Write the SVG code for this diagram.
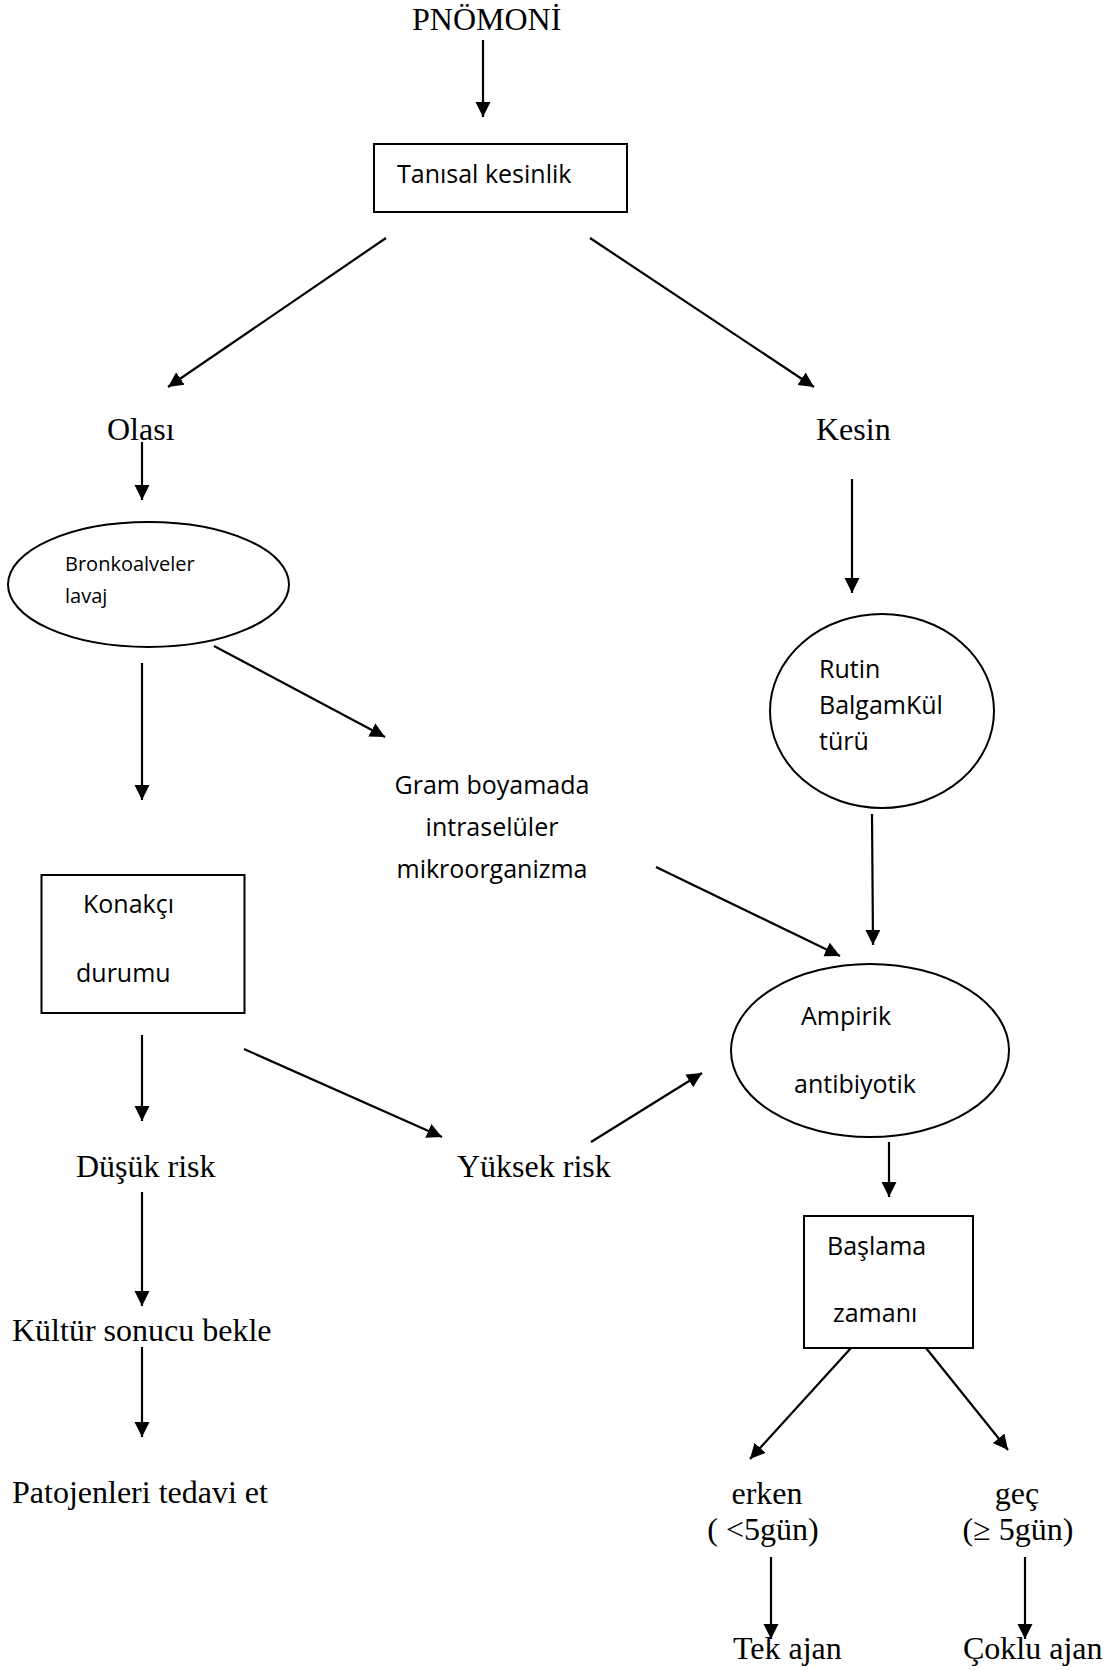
<svg xmlns="http://www.w3.org/2000/svg" width="1117" height="1670" viewBox="0 0 1117 1670">
<style>
.bg{fill:#ffffff}
.shape{fill:#ffffff;stroke:#000000;stroke-width:2}
.conn{stroke:#000000;stroke-width:2.2;fill:none;marker-end:url(#ah)}
.serif{font-family:"Liberation Serif","Times New Roman",serif;font-size:32px;fill:#000000}
.sans{font-family:"Open Sans","Noto Sans",sans-serif;font-size:25px;fill:#000000}
.sans-s{font-family:"Open Sans","Noto Sans",sans-serif;font-size:20px;fill:#000000}
</style>
<defs>
<marker id="ah" markerUnits="userSpaceOnUse" markerWidth="16" markerHeight="16" refX="15" refY="7.5" orient="auto">
<path d="M0,0 L15,7.5 L0,15 z" fill="#000000"/>
</marker>
</defs>
<rect class="bg" x="0" y="0" width="1117" height="1670"/>

<g id="connectors">
<line class="conn" x1="483" y1="40" x2="483" y2="117"/>
<line class="conn" x1="386" y1="238" x2="168" y2="387"/>
<line class="conn" x1="590" y1="238" x2="814" y2="387"/>
<line class="conn" x1="142" y1="442" x2="142" y2="500"/>
<line class="conn" x1="852" y1="479" x2="852" y2="593"/>
<line class="conn" x1="214" y1="646" x2="385" y2="737"/>
<line class="conn" x1="142" y1="663" x2="142" y2="800"/>
<line class="conn" x1="872" y1="814" x2="873" y2="945"/>
<line class="conn" x1="656" y1="867" x2="840" y2="956"/>
<line class="conn" x1="142" y1="1035" x2="142" y2="1121"/>
<line class="conn" x1="244" y1="1049" x2="442" y2="1137"/>
<line class="conn" x1="591" y1="1142" x2="702" y2="1073"/>
<line class="conn" x1="142" y1="1192" x2="142" y2="1306"/>
<line class="conn" x1="142" y1="1347" x2="142" y2="1437"/>
<line class="conn" x1="889" y1="1142" x2="889" y2="1197"/>
<line class="conn" x1="851" y1="1348" x2="750" y2="1459"/>
<line class="conn" x1="926" y1="1348" x2="1008" y2="1450"/>
<line class="conn" x1="771" y1="1557" x2="771" y2="1639"/>
<line class="conn" x1="1025" y1="1557" x2="1025" y2="1639"/>
</g>

<g id="n-pnomoni"><text class="serif" x="412" y="30">PNÖMONİ</text></g>
<g id="n-tanisal">
<rect class="shape" x="374" y="144" width="253" height="68"/>
<text class="sans" x="397" y="183">Tanısal kesinlik</text>
</g>
<g id="n-olasi"><text class="serif" x="107" y="440">Olası</text></g>
<g id="n-kesin"><text class="serif" x="816" y="440">Kesin</text></g>
<g id="n-bronko">
<ellipse class="shape" cx="148.5" cy="584.5" rx="140.5" ry="62.5"/>
<text class="sans-s" x="65" y="571">Bronkoalveler</text>
<text class="sans-s" x="65" y="603">lavaj</text>
</g>
<g id="n-rutin">
<ellipse class="shape" cx="882" cy="711" rx="112" ry="97"/>
<text class="sans" x="819" y="678">Rutin</text>
<text class="sans" x="819" y="714">BalgamKül</text>
<text class="sans" x="819" y="750">türü</text>
</g>
<g id="n-gram">
<text class="sans" x="492" y="794" text-anchor="middle">Gram boyamada</text>
<text class="sans" x="492" y="836" text-anchor="middle">intraselüler</text>
<text class="sans" x="492" y="878" text-anchor="middle">mikroorganizma</text>
</g>
<g id="n-konakci">
<rect class="shape" x="41.5" y="875" width="203" height="138"/>
<text class="sans" x="83" y="913">Konakçı</text>
<text class="sans" x="76" y="982">durumu</text>
</g>
<g id="n-ampirik">
<ellipse class="shape" cx="870" cy="1050.5" rx="139" ry="86.5"/>
<text class="sans" x="801" y="1025">Ampirik</text>
<text class="sans" x="794" y="1093">antibiyotik</text>
</g>
<g id="n-dusuk"><text class="serif" x="76" y="1177">Düşük risk</text></g>
<g id="n-yuksek"><text class="serif" x="457" y="1177">Yüksek risk</text></g>
<g id="n-kultur"><text class="serif" x="12" y="1341">Kültür sonucu bekle</text></g>
<g id="n-patojen"><text class="serif" x="12" y="1503">Patojenleri tedavi et</text></g>
<g id="n-baslama">
<rect class="shape" x="804" y="1216" width="169" height="132"/>
<text class="sans" x="827" y="1255">Başlama</text>
<text class="sans" x="833" y="1322">zamanı</text>
</g>
<g id="n-erken">
<text class="serif" x="767" y="1504" text-anchor="middle">erken</text>
<text class="serif" x="763" y="1540" text-anchor="middle">( &lt;5gün)</text>
</g>
<g id="n-gec">
<text class="serif" x="1017" y="1504" text-anchor="middle">geç</text>
<text class="serif" x="1018" y="1540" text-anchor="middle">(≥ 5gün)</text>
</g>
<g id="n-tek"><text class="serif" x="733" y="1659">Tek ajan</text></g>
<g id="n-coklu"><text class="serif" x="963" y="1659">Çoklu ajan</text></g>
</svg>
